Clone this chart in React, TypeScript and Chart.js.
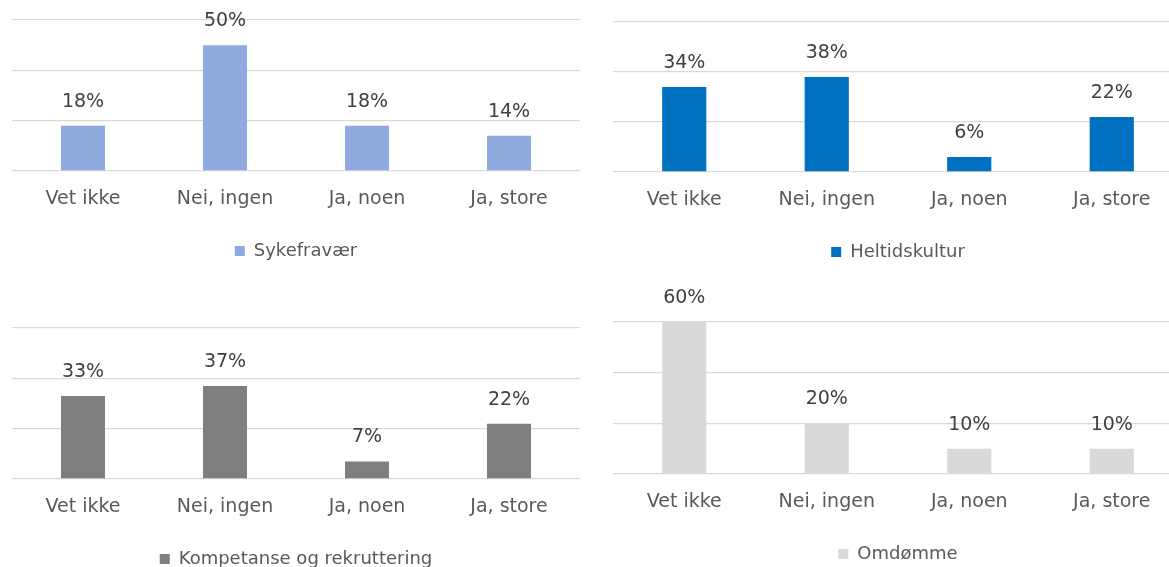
import React, { useEffect, useRef } from "react";
import { Chart, registerables } from "chart.js";

Chart.register(...registerables);

const categories = ["Vet ikke", "Nei, ingen", "Ja, noen", "Ja, store"];
const sykefravaer = [18, 50, 18, 14];
const heltidskultur = [34, 38, 6, 22];
const kompetanse = [33, 37, 7, 22];
const omdomme = [60, 20, 10, 10];
const yMax = 60;
const yStep = 20;

const FONT = "'DejaVu Sans', sans-serif";

const dataLabelPlugin = {
  id: "dataLabels",
  afterDatasetsDraw(chart: any) {
    const ctx = chart.ctx;
    const meta = chart.getDatasetMeta(0);
    const values = chart.data.datasets[0].data;
    ctx.save();
    ctx.font = `19px ${FONT}`;
    ctx.fillStyle = "#404040";
    ctx.textAlign = "center";
    ctx.textBaseline = "middle";
    meta.data.forEach((el: any, i: number) => {
      ctx.fillText(`${values[i]}%`, el.x, el.y - 24);
    });
    ctx.restore();
  },
};

type PanelProps = {
  label: string;
  values: number[];
  color: string;
  left: number;
  top: number;
  width: number;
  height: number;
  padTop: number;
  padLeft: number;
  padRight: number;
};

function Panel(p: PanelProps) {
  const ref = useRef<HTMLCanvasElement>(null);
  useEffect(() => {
    if (!ref.current) return;
    const chart = new Chart(ref.current, {
      type: "bar",
      data: {
        labels: categories,
        datasets: [
          {
            label: p.label,
            data: p.values,
            backgroundColor: p.color,
            borderWidth: 0,
            categoryPercentage: 1,
            barPercentage: 0.31,
          },
        ],
      },
      options: {
        responsive: false,
        animation: false,
        devicePixelRatio: 1,
        layout: { padding: { top: p.padTop, left: p.padLeft, right: p.padRight, bottom: 0 } },
        scales: {
          x: {
            grid: { display: false, drawTicks: false },
            border: { display: false },
            ticks: { color: "#595959", font: { family: FONT, size: 19 }, padding: 17 },
            afterFit: (s: any) => {
              s.height = 61;
            },
          },
          y: {
            min: 0,
            max: yMax,
            ticks: { display: false, stepSize: yStep },
            grid: { color: "#D9D9D9", lineWidth: 1.3, drawTicks: false },
            border: { display: false },
            afterFit: (s: any) => {
              s.width = 0;
            },
          },
        },
        plugins: {
          legend: {
            position: "bottom",
            labels: {
              boxWidth: 10,
              boxHeight: 10,
              color: "#595959",
              font: { family: FONT, size: 18 },
              padding: 10,
            },
          },
          tooltip: { enabled: false },
        },
      },
      plugins: [dataLabelPlugin],
    } as any);
    return () => chart.destroy();
  }, []);
  return (
    <canvas
      ref={ref}
      width={p.width}
      height={p.height}
      style={{ position: "absolute", left: p.left, top: p.top, width: p.width, height: p.height }}
    />
  );
}

export default function App() {
  return (
    <div
      style={{
        position: "fixed",
        left: 0,
        top: 0,
        width: 1169,
        height: 567,
        overflow: "hidden",
        background: "#ffffff",
      }}
    >
      <Panel label="Sykefravær" values={sykefravaer} color="#8FAADC" left={0} top={0} width={590} height={270} padTop={20} padLeft={12} padRight={10} />
      <Panel label="Heltidskultur" values={heltidskultur} color="#0070C0" left={603} top={0} width={590} height={271} padTop={22} padLeft={10} padRight={10} />
      <Panel label="Kompetanse og rekruttering" values={kompetanse} color="#7F7F7F" left={0} top={298} width={590} height={280} padTop={30} padLeft={12} padRight={10} />
      <Panel label="Omdømme" values={omdomme} color="#D9D9D9" left={603} top={287} width={590} height={286} padTop={35} padLeft={10} padRight={10} />
    </div>
  );
}
